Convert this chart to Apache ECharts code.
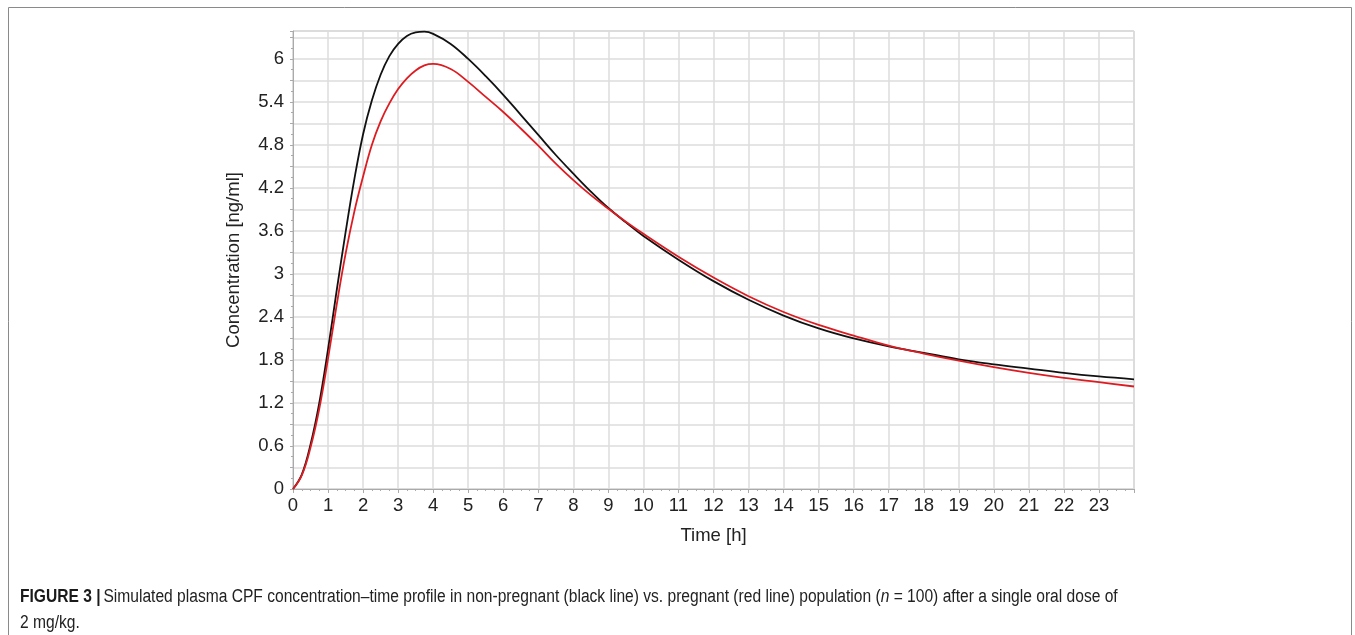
<!DOCTYPE html>
<html>
<head>
<meta charset="utf-8">
<script src="https://cdn.jsdelivr.net/npm/echarts@6/dist/echarts.min.js"></script>
<style>
html,body{margin:0;padding:0;background:#fff;}
#chart{width:1355px;height:635px;}
</style>
</head>
<body>
<div id="chart"></div>
<script>
// Time points [h]
var timeH = [0,0.25,0.5,0.75,1,1.25,1.5,1.75,2,2.25,2.5,2.75,3,3.25,3.5,3.75,4,4.5,5,5.5,6,6.5,7,7.5,8,8.5,9,9.5,10,11,12,13,14,15,16,17,18,19,20,21,22,23,24];
// Non-pregnant (black line) concentration [ng/ml]
var nonPregnant = [0,0.2,0.62,1.2,1.95,2.78,3.58,4.32,4.95,5.42,5.78,6.04,6.21,6.32,6.37,6.38,6.35,6.21,6.0,5.76,5.5,5.22,4.94,4.66,4.4,4.15,3.92,3.72,3.53,3.2,2.9,2.64,2.42,2.24,2.1,1.99,1.9,1.81,1.74,1.68,1.62,1.57,1.53];
// Pregnant (red line) concentration [ng/ml]
var pregnant = [0,0.19,0.58,1.12,1.82,2.58,3.28,3.87,4.36,4.8,5.13,5.38,5.58,5.73,5.84,5.91,5.93,5.86,5.68,5.47,5.26,5.03,4.79,4.54,4.31,4.1,3.91,3.73,3.56,3.24,2.95,2.69,2.47,2.29,2.14,2.0,1.89,1.79,1.70,1.62,1.55,1.49,1.43];
var xTickLabels = ['0','1','2','3','4','5','6','7','8','9','10','11','12','13','14','15','16','17','18','19','20','21','22','23'];
var yTickLabels = ['0','0.6','1.2','1.8','2.4','3','3.6','4.2','4.8','5.4','6'];

function pairs(xs, ys){ return xs.map(function(x,i){ return [x, ys[i]]; }); }

var chart = echarts.init(document.getElementById('chart'), null, {renderer:'canvas'});
var FONT = '"Liberation Sans", Arial, sans-serif';

chart.setOption({
  animation:false,
  backgroundColor:'#fff',
  grid:{left:293,right:221,top:31,bottom:146,show:true,borderColor:'#b5b5b5',borderWidth:1,containLabel:false},
  xAxis:{
    type:'value',min:0,max:24,interval:1,
    name:'Time [h]',nameLocation:'middle',nameGap:37,
    nameTextStyle:{fontFamily:FONT,fontSize:18.5,color:'#222'},
    axisLine:{show:true,lineStyle:{color:'#aaa',width:1}},
    axisTick:{show:true,length:4,lineStyle:{color:'#aaa'}},
    minorTick:{show:true,splitNumber:4,length:2,lineStyle:{color:'#aaa'}},
    splitLine:{show:true,lineStyle:{color:'#dcdcdc',width:1.5}},
    axisLabel:{fontFamily:FONT,fontSize:18.5,color:'#222',margin:7,
      formatter:function(v){ var s=String(Math.round(v)); return xTickLabels.indexOf(s)>=0 && Math.abs(v-Math.round(v))<1e-6 ? s : ''; }}
  },
  yAxis:{
    type:'value',min:0,max:6.39,interval:0.3,
    name:'Concentration [ng/ml]',nameLocation:'middle',nameGap:50,nameRotate:90,
    nameTextStyle:{fontFamily:FONT,fontSize:18.5,color:'#222'},
    axisLine:{show:true,lineStyle:{color:'#aaa',width:1}},
    axisTick:{show:true,length:3,lineStyle:{color:'#aaa'}},
    minorTick:{show:true,splitNumber:2,length:2,lineStyle:{color:'#aaa'}},
    splitLine:{show:true,lineStyle:{color:'#dcdcdc',width:1.5}},
    axisLabel:{fontFamily:FONT,fontSize:18.5,color:'#222',margin:9,
      formatter:function(v){ var k=v/0.6; if(Math.abs(k-Math.round(k))>1e-6) return ''; var s=String(Math.round(k*6)/10); return yTickLabels.indexOf(s)>=0 ? s : ''; }}
  },
  series:[
    {name:'Non-pregnant',type:'line',data:pairs(timeH,nonPregnant),smooth:0.4,showSymbol:false,lineStyle:{color:'#111',width:1.8},z:3},
    {name:'Pregnant',type:'line',data:pairs(timeH,pregnant),smooth:0.4,showSymbol:false,lineStyle:{color:'#dd1c22',width:1.8},z:4}
  ],
  graphic:[
    {type:'rect',shape:{x:8.5,y:7.5,width:1343,height:660},style:{fill:null,stroke:'#8a8a8a',lineWidth:1},silent:true},
    {type:'text',x:20,y:584,scaleX:0.866,scaleY:1,style:{
      text:'{b|FIGURE 3 |} {r|Simulated plasma CPF concentration–time profile in non-pregnant (black line) vs. pregnant (red line) population (}{i|n}{r| = 100) after a single oral dose of}\n{r|2 mg/kg.}',
      lineHeight:26,
      rich:{
        b:{fontFamily:FONT,fontSize:18,fontWeight:'bold',fill:'#1a1a1a',lineHeight:26},
        r:{fontFamily:FONT,fontSize:18,fill:'#222',lineHeight:26},
        i:{fontFamily:FONT,fontSize:18,fontStyle:'italic',fill:'#222',lineHeight:26}
      }
    }}
  ]
});
</script>
</body>
</html>
